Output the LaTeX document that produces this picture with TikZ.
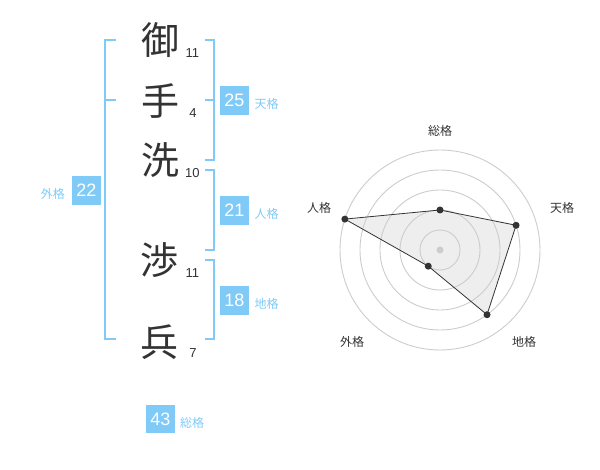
\documentclass[tikz,border=0pt]{standalone}
\usepackage{fontspec}
\setmainfont{Liberation Sans}
\newfontfamily\jpfont{Noto Sans CJK JP}
\usepackage{tikz}
\definecolor{nameblue}{RGB}{127,202,247}
\definecolor{namegray}{RGB}{51,51,51}
\definecolor{ringgray}{RGB}{204,204,204}
\definecolor{areagray}{RGB}{238,238,238}

\begin{document}
\begin{tikzpicture}[x=1pt, y=-1pt,
    kanji/.style={inner sep=0pt, text=namegray, font=\jpfont\fontsize{38}{38}\selectfont},
    strokes/.style={inner sep=0pt, text=namegray, font=\fontsize{13}{13}\selectfont},
    score/.style={rectangle, fill=nameblue, text=white, minimum size=28.7pt, inner sep=0pt, font=\fontsize{18}{18}\selectfont},
    caption/.style={inner sep=0pt, anchor=west, text=nameblue, font=\jpfont\fontsize{12}{12}\selectfont},
    bracket/.style={draw=nameblue, line width=2pt},
    ring/.style={draw=ringgray, line width=0.9pt},
    axis/.style={inner sep=0pt, text=namegray, font=\jpfont\fontsize{12}{12}\selectfont},
    dot/.style={circle, fill=namegray, inner sep=0pt, minimum size=7pt}
]
\useasboundingbox (0,0) rectangle (600,470);

\node[kanji] (c1) at (160,40) {御};
\node[kanji] (c2) at (160,101) {手};
\node[kanji] (c3) at (160,160) {洗};
\node[kanji] (c4) at (159,260) {渉};
\node[kanji] (c5) at (159,342) {兵};

\node[strokes] (n1) at (192.3,53) {11};
\node[strokes] (n2) at (193,113) {4};
\node[strokes] (n3) at (192.3,173) {10};
\node[strokes] (n4) at (192.3,273) {11};
\node[strokes] (n5) at (193,353) {7};

% brackets
\draw[bracket] (116,40) -| (105,339) -- (116,339);
\draw[bracket] (105,100) -- (116,100);
\draw[bracket] (205,40) -| (214.3,160) -- (205,160);
\draw[bracket] (205,100) -- (214.3,100);
\draw[bracket] (205,170) -| (214.3,250) -- (205,250);
\draw[bracket] (205,260) -| (214.3,339) -- (205,339);

\node[score] (s1) at (234.3,100.3) {25};
\node[caption] at (254.3,104) {天格};
\node[score] (s2) at (234.3,210.3) {21};
\node[caption] at (254.3,214) {人格};
\node[score] (s3) at (234.3,300.3) {18};
\node[caption] at (254.3,304) {地格};
\node[score] (s4) at (86.5,190.3) {22};
\node[caption, anchor=east] at (65,194) {外格};
\node[score] (s5) at (160.3,419) {43};
\node[caption] at (180,422.7) {総格};

% radar
\begin{scope}[shift={(440,250)}, yscale=-1]
  \coordinate (p1) at (90:40);
  \coordinate (p2) at (18:80);
  \coordinate (p3) at (-54:80);
  \coordinate (p4) at (-126:20);
  \coordinate (p5) at (162:100);
  \fill[areagray] (p1) -- (p2) -- (p3) -- (p4) -- (p5) -- cycle;
  \foreach \r in {20,40,...,100}
    \draw[ring] (0,0) circle (\r);
  \draw[namegray, line width=0.8pt] (p1) -- (p2) -- (p3) -- (p4) -- (p5) -- cycle;
  \foreach \p in {p1,p2,p3,p4,p5}
    \node[dot] at (\p) {};
  \node[dot, fill=ringgray] (hub) at (0,0) {};
\end{scope}

\node[axis] (a1) at (440,131) {総格};
\node[axis] (a2) at (562,208) {天格};
\node[axis] (a3) at (319,208) {人格};
\node[axis] (a4) at (524,342) {地格};
\node[axis] (a5) at (352,342) {外格};

\end{tikzpicture}
\end{document}
